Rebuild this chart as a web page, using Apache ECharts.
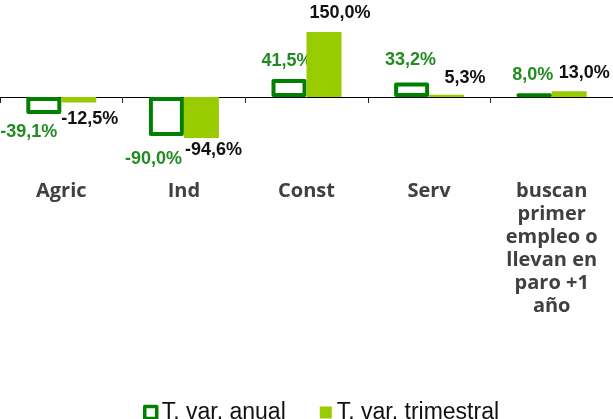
<!DOCTYPE html>
<html>
<head>
<meta charset="utf-8">
<script src="https://cdn.jsdelivr.net/npm/echarts@6/dist/echarts.min.js"></script>
<style>
html,body{margin:0;padding:0;background:#fff;}
#chart{width:613px;height:419px;}
</style>
</head>
<body>
<div id="chart"></div>
<script>
// ---- data ----
const categories = ['Agric', 'Ind', 'Const', 'Serv', 'buscan\nprimer\nempleo o\nllevan en\nparo +1\naño'];
const seriesNames = ['T. var. anual', 'T. var. trimestral'];
const anual = [-39.1, -90.0, 41.5, 33.2, 8.0];
const trimestral = [-12.5, -94.6, 150.0, 5.3, 13.0];

// ---- label nudges (style only) ----
const anualLabelShift = [[-15, 9], [-13, 14], [-2, -9], [-1, -13.5], [-1.5, -9.5]];
const trimLabelShift = [[11, 8], [12, 3], [16, -10], [18.5, -7.7], [15, -9.4]];

const fmt = v => v.toFixed(1).replace('.', ',') + '%';

function buildData(values, shifts, color) {
  return values.map((v, i) => ({
    value: v,
    label: {
      position: v < 0 ? 'bottom' : 'top',
      offset: shifts[i],
      color: color
    }
  }));
}

const chart = echarts.init(document.getElementById('chart'), null, {renderer: 'canvas'});
chart.setOption({
  animation: false,
  backgroundColor: '#ffffff',
  grid: {left: -2.6, right: -2.4, top: 10.33, bottom: 235.33, containLabel: false},
  legend: {
    left: 138,
    top: 396,
    itemWidth: 12,
    itemHeight: 12,
    itemGap: 34,
    icon: 'rect',
    textStyle: {fontFamily: 'Liberation Sans, Arial, sans-serif', fontSize: 23, color: '#111', lineHeight: 22},
    data: [
      {name: seriesNames[0], itemStyle: {color: '#ffffff', borderColor: '#008000', borderWidth: 3.5}},
      {name: seriesNames[1], itemStyle: {color: '#99CC00', borderWidth: 0}}
    ]
  },
  xAxis: {
    type: 'category',
    data: categories,
    axisLine: {onZero: true, lineStyle: {color: '#000', width: 1}},
    axisTick: {show: true, length: 6, alignWithLabel: false, lineStyle: {color: '#222'}},
    axisLabel: {
      interval: 0,
      margin: -4,
      fontFamily: 'Open Sans, sans-serif',
      fontWeight: 'bold',
      fontSize: 20,
      lineHeight: 23,
      color: '#404040',
      verticalAlign: 'top'
    },
    splitLine: {show: false}
  },
  yAxis: {
    type: 'value',
    min: -200,
    max: 200,
    show: false,
    splitLine: {show: false}
  },
  series: [
    {
      name: seriesNames[0],
      type: 'bar',
      barWidth: 35,
      barGap: '0%',
      itemStyle: {color: '#ffffff', borderColor: '#008000', borderWidth: 4, borderJoin: 'round'},
      label: {
        show: true,
        distance: 0,
        fontFamily: 'Liberation Sans, Arial, sans-serif',
        fontWeight: 'bold',
        fontSize: 18,
        lineHeight: 18,
        formatter: p => fmt(p.value)
      },
      data: buildData(anual, anualLabelShift, '#228B22'),
      z: 2
    },
    {
      name: seriesNames[1],
      type: 'bar',
      barWidth: 35,
      barGap: '0%',
      itemStyle: {color: '#99CC00'},
      label: {
        show: true,
        distance: 0,
        fontFamily: 'Liberation Sans, Arial, sans-serif',
        fontWeight: 'bold',
        fontSize: 18,
        lineHeight: 18,
        formatter: p => fmt(p.value)
      },
      data: buildData(trimestral, trimLabelShift, '#111111'),
      z: 3
    }
  ]
});
</script>
</body>
</html>
